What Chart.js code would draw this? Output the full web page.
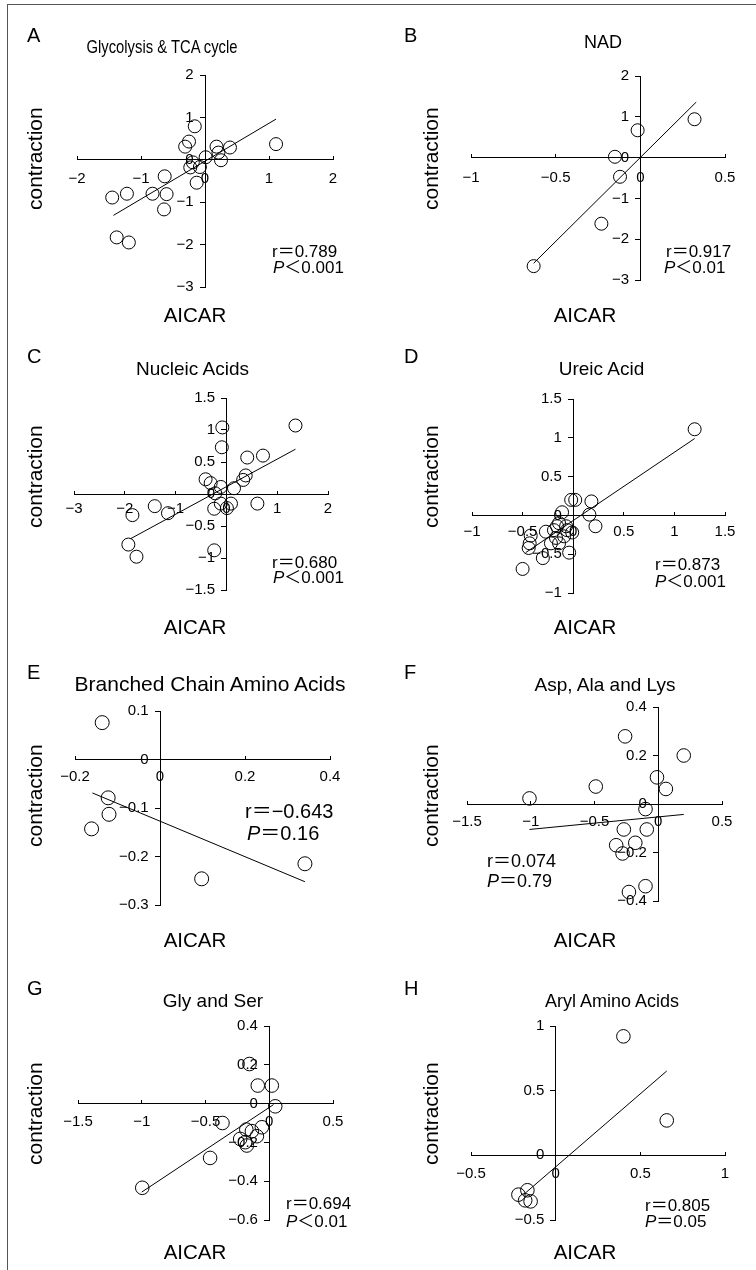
<!DOCTYPE html>
<html lang="en">
<head>
<meta charset="UTF-8">
<title>AICAR vs contraction</title>
<script src="https://cdn.jsdelivr.net/npm/chart.js@4"></script>
<style>
    body {
        margin: 0;
        background: #fff;
        font-family: "Liberation Sans", Arial, "Noto Sans CJK JP", sans-serif;
        color: #000;
    }
    #page {
        position: relative;
        width: 756px;
        height: 1270px;
        overflow: hidden;
    }
    #frame {
        position: absolute;
        left: 7px;
        top: 4px;
        width: 800px;
        height: 1300px;
        border-left: 1px solid #555;
        border-top: 1px solid #555;
    }
    canvas { position: absolute; }
    .txt {
        position: absolute;
        line-height: 1;
        white-space: nowrap;
    }
</style>
</head>
<body>
<div id="page">
    <div id="frame"></div>
</div>

<script>
// ---- panel texts ----
const panelLetters = ['A', 'B', 'C', 'D', 'E', 'F', 'G', 'H'];
const panelTitles = ['Glycolysis & TCA cycle', 'NAD', 'Nucleic Acids', 'Ureic Acid',
    'Branched Chain Amino Acids', 'Asp, Ala and Lys', 'Gly and Ser', 'Aryl Amino Acids'];
const rValues = ['0.789', '0.917', '0.680', '0.873', '\u22120.643', '0.074', '0.694', '0.805'];
const pSigns = ['\uFF1C', '\uFF1C', '\uFF1C', '\uFF1C', '\uFF1D', '\uFF1D', '\uFF1C', '\uFF1D'];
const pValues = ['0.001', '0.01', '0.001', '0.001', '0.16', '0.79', '0.01', '0.05'];

// ---- axis ranges: [min, max, step] ----
const xRanges = [[-2, 2, 1], [-1, 0.5, 0.5], [-3, 2, 1], [-1, 1.5, 0.5],
    [-0.2, 0.4, 0.2], [-1.5, 0.5, 0.5], [-1.5, 0.5, 0.5], [-0.5, 1, 0.5]];
const yRanges = [[-3, 2, 1], [-3, 2, 1], [-1.5, 1.5, 0.5], [-1, 1.5, 0.5],
    [-0.3, 0.1, 0.1], [-0.4, 0.4, 0.2], [-0.6, 0.4, 0.2], [-0.5, 1, 0.5]];

// ---- A: Glycolysis & TCA cycle ----
const aX = [-0.16, -0.25, -0.31, 0.18, 0.39, 1.11, 0.21, 0.01, -0.08, -0.19, -0.23,
    -0.13, 0.25, -0.63, -0.82, -0.60, -0.64, -1.45, -1.22, -1.38, -1.19];
const aY = [0.79, 0.43, 0.31, 0.31, 0.29, 0.37, 0.17, 0.06, -0.17, -0.06, -0.18,
    -0.54, -0.01, -0.39, -0.80, -0.81, -1.17, -0.89, -0.80, -1.83, -1.95];
const aFitX = [-1.43, 1.11];
const aFitY = [-1.31, 0.96];

// ---- B: NAD ----
const bX = [0.32, -0.016, -0.15, -0.12, -0.23, -0.63];
const bY = [0.94, 0.67, 0.02, -0.47, -1.62, -2.66];
const bFitX = [-0.63, 0.33];
const bFitY = [-2.59, 1.36];

// ---- C: Nucleic Acids ----
const cX = [1.36, -0.08, -0.09, 0.41, 0.72, 0.38, 0.33, -0.41, -0.31, -0.11, -0.22, 0.15,
    -0.11, 0.09, 0.01, -0.24, 0.61, -1.41, -1.15, -1.85, -1.93, -1.77, -0.24];
const cY = [1.07, 1.04, 0.73, 0.57, 0.60, 0.29, 0.22, 0.23, 0.17, 0.11, 0.01, 0.09,
    -0.15, -0.15, -0.22, -0.23, -0.15, -0.19, -0.30, -0.33, -0.79, -0.98, -0.88];
const cFitX = [-1.89, 1.36];
const cFitY = [-0.70, 0.70];

// ---- D: Ureic Acid ----
const dX = [1.20, -0.02, 0.02, 0.18, -0.11, 0.16, 0.22, -0.14, -0.16, -0.06, -0.01, -0.09,
    -0.17, -0.14, -0.04, -0.27, -0.42, -0.43, -0.44, -0.30, -0.50, -0.22, -0.19, -0.07];
const dY = [1.11, 0.20, 0.20, 0.18, 0.04, 0.01, -0.14, -0.10, -0.14, -0.19, -0.22, -0.27,
    -0.29, -0.36, -0.48, -0.21, -0.26, -0.36, -0.42, -0.55, -0.69, -0.36, -0.19, -0.14];
const dFitX = [-0.47, 1.20];
const dFitY = [-0.48, 0.99];

// ---- E: Branched Chain Amino Acids ----
const eX = [-0.136, -0.122, -0.120, -0.161, 0.098, 0.341];
const eY = [0.076, -0.079, -0.113, -0.143, -0.246, -0.215];
const eFitX = [-0.159, 0.341];
const eFitY = [-0.069, -0.252];

// ---- F: Asp, Ala and Lys ----
const fX = [-0.26, 0.20, -0.01, 0.06, -0.49, -1.01, -0.10, -0.27, -0.09, -0.33, -0.18, -0.28, -0.23, -0.10];
const fY = [0.279, 0.200, 0.110, 0.062, 0.072, 0.023, -0.021, -0.105, -0.105, -0.170, -0.160, -0.204, -0.363, -0.339];
const fFitX = [-1.01, 0.20];
const fFitY = [-0.105, -0.043];

// ---- G: Gly and Ser ----
const gX = [-0.155, -0.09, 0.02, 0.047, -0.367, -0.058, -0.18, -0.136, -0.097, -0.228, -0.189, -0.176, -0.464, -0.996];
const gY = [0.204, 0.093, 0.093, -0.014, -0.10, -0.122, -0.134, -0.142, -0.168, -0.182, -0.199, -0.216, -0.280, -0.434];
const gFitX = [-1.0, 0.034];
const gFitY = [-0.456, -0.005];

// ---- H: Aryl Amino Acids ----
const hX = [0.40, 0.656, -0.22, -0.167, -0.18, -0.148];
const hY = [0.92, 0.27, -0.304, -0.27, -0.348, -0.356];
const hFitX = [-0.19, 0.656];
const hFitY = [-0.304, 0.652];

const seriesX = [aX, bX, cX, dX, eX, fX, gX, hX];
const seriesY = [aY, bY, cY, dY, eY, fY, gY, hY];
const fitX = [aFitX, bFitX, cFitX, dFitX, eFitX, fFitX, gFitX, hFitX];
const fitY = [aFitY, bFitY, cFitY, dFitY, eFitY, fFitY, gFitY, hFitY];

// ---- layout (pixels) ----
// plot area of each panel: left, right, top, bottom
const plotBoxes = [[77, 333, 75, 287], [471, 725, 76, 280], [74, 328, 398, 590], [472, 725, 399, 593],
    [75, 330, 711, 905], [467, 722, 707, 901], [78, 333, 1026, 1220], [471, 725, 1026, 1220]];
const xLabelGap = [14, 15, 9.5, 11, 11.7, 12.4, 12.7, 13];
const tickFont = [15, 15, 15, 15, 15, 15, 15, 15];
const markerSize = [6.5, 6.5, 6.5, 6.5, 7, 6.8, 6.8, 6.8];
const letterPos = [[27, 42], [404, 42], [27, 363], [404, 363], [27, 679], [404, 679], [27, 995], [404, 995]];
// title: centre x, baseline, font size, horizontal squeeze
const titlePos = [[161.5, 54, 18.5, 0.8], [603, 48, 18, 1], [192.5, 375, 19, 1], [601.5, 375, 19, 1],
    [210, 691, 21, 1], [605, 691, 19, 1], [213, 1007, 19, 1], [612, 1007, 18, 1]];
const xTitlePos = [[195, 322], [585, 322], [195, 634], [585, 634], [195, 947], [585, 947], [195, 1259], [585, 1259]];
const yTitlePos = [[41.7, 210], [438, 210], [41.7, 528], [438, 528], [41.7, 847], [438, 847], [41.7, 1165], [438, 1165]];
const statPos = [[272, 257, 273, 273, 17], [666, 257, 664, 273, 17], [272, 568, 273, 583, 17], [655, 570, 655, 587, 17],
    [245, 818, 247, 840, 20], [487, 867, 487, 887, 18], [286, 1209, 286, 1227, 17], [645, 1211, 645, 1227, 17]];

const FONT = '"Liberation Sans", Arial, "Noto Sans CJK JP", sans-serif';
const page = document.getElementById('page');

function fmt(v) {
    const r = Math.round(v * 100) / 100;
    if (r === 0) return '0';
    return String(r).replace('-', '\u2212');
}

// place a text so that its baseline sits at y
function addText(html, x, y, size, align, rotate, squeeze) {
    const d = document.createElement('div');
    d.className = 'txt';
    d.innerHTML = html;
    d.style.fontSize = size + 'px';
    if (rotate) {
        d.style.left = (x - 0.8465 * size) + 'px';
        d.style.top = y + 'px';
        d.style.transformOrigin = '0 0';
        d.style.transform = 'rotate(-90deg)';
    } else {
        d.style.left = x + 'px';
        d.style.top = (y - 0.8465 * size) + 'px';
        if (align === 'center') {
            d.style.transform = 'translateX(-50%) scaleX(' + (squeeze || 1) + ')';
        }
    }
    page.appendChild(d);
}

function makePanel(i) {
    const [x0, x1, y0, y1] = plotBoxes[i];
    const padL = 50, padR = 50, padT = 30, padB = 30;
    const cv = document.createElement('canvas');
    cv.width = x1 - x0 + padL + padR;
    cv.height = y1 - y0 + padT + padB;
    cv.style.left = (x0 - padL) + 'px';
    cv.style.top = (y0 - padT) + 'px';
    page.appendChild(cv);

    const pts = seriesX[i].map((x, k) => ({ x: x, y: seriesY[i][k] }));
    const fit = fitX[i].map((x, k) => ({ x: x, y: fitY[i][k] }));
    const tf = { family: FONT, size: tickFont[i] };

    new Chart(cv, {
        type: 'scatter',
        data: {
            datasets: [
                {
                    data: fit,
                    showLine: true,
                    pointRadius: 0,
                    borderColor: '#000',
                    borderWidth: 1,
                    clip: false
                },
                {
                    data: pts,
                    pointRadius: markerSize[i],
                    pointHoverRadius: markerSize[i],
                    pointBorderWidth: 1,
                    pointBorderColor: '#000',
                    pointBackgroundColor: 'rgba(255,255,255,0)',
                    clip: false
                }
            ]
        },
        options: {
            responsive: false,
            animation: false,
            events: [],
            layout: { padding: { left: padL, right: padR, top: padT, bottom: padB } },
            plugins: { legend: { display: false }, tooltip: { enabled: false } },
            scales: {
                x: {
                    type: 'linear',
                    position: { y: 0 },
                    min: xRanges[i][0],
                    max: xRanges[i][1],
                    ticks: {
                        stepSize: xRanges[i][2],
                        autoSkip: false,
                        maxRotation: 0,
                        color: '#000',
                        font: tf,
                        padding: xLabelGap[i] + 0.5,
                        callback: v => fmt(v)
                    },
                    grid: { drawOnChartArea: false, drawTicks: true, tickLength: -4, color: '#000', lineWidth: 1 },
                    border: { display: true, color: '#000', width: 1 }
                },
                y: {
                    type: 'linear',
                    position: { x: 0 },
                    min: yRanges[i][0],
                    max: yRanges[i][1],
                    ticks: {
                        stepSize: yRanges[i][2],
                        autoSkip: false,
                        color: '#000',
                        font: tf,
                        callback: v => fmt(v) + '\u00a0\u00a0\u2009'
                    },
                    grid: { drawOnChartArea: false, drawTicks: true, tickLength: 5, color: '#000', lineWidth: 1 },
                    border: { display: true, color: '#000', width: 1 }
                }
            }
        }
    });

    // texts of the panel
    addText(panelLetters[i], letterPos[i][0], letterPos[i][1], 20);
    const t = titlePos[i];
    addText(panelTitles[i].replace('&', '&amp;'), t[0], t[1], t[2], 'center', false, t[3]);
    addText('AICAR', xTitlePos[i][0], xTitlePos[i][1], 20.5, 'center');
    addText('contraction', yTitlePos[i][0], yTitlePos[i][1], 21, 'left', true);
    const s = statPos[i];
    addText('r\uFF1D' + rValues[i], s[0], s[1], s[4]);
    addText('<i>P</i>' + pSigns[i] + pValues[i], s[2], s[3], s[4]);
}

for (let i = 0; i < 8; i++) makePanel(i);
</script>
</body>
</html>
